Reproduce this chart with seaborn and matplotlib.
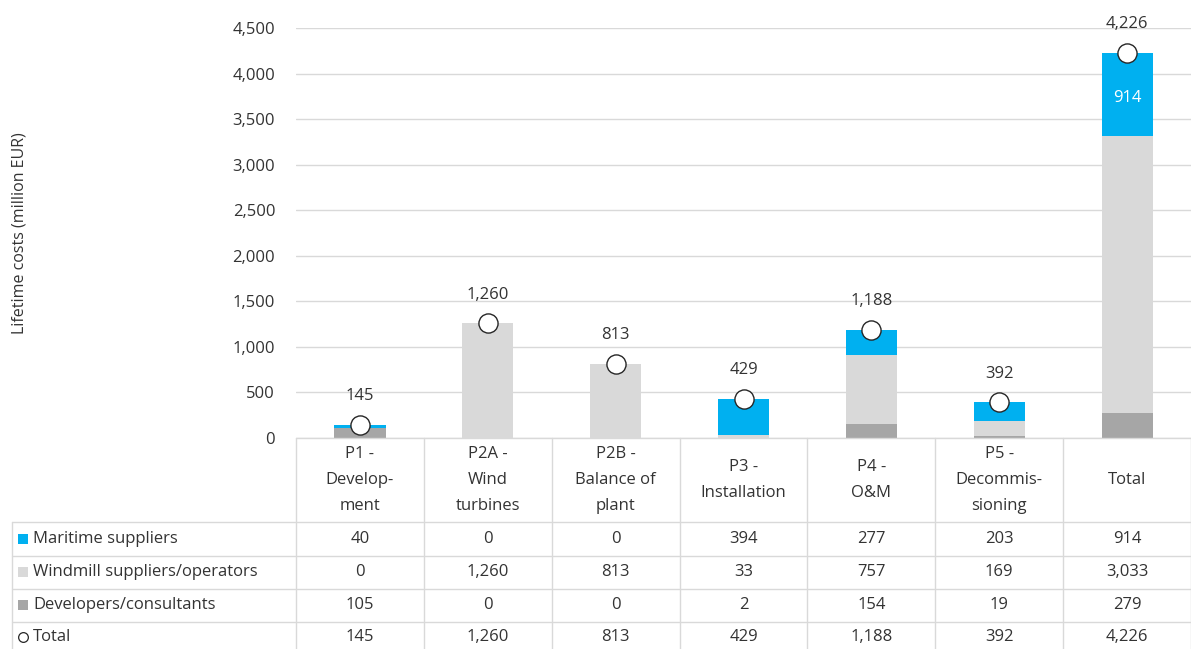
import numpy as np
import pandas as pd
import matplotlib
matplotlib.use("Agg")
import matplotlib.pyplot as plt
import matplotlib.transforms as mtransforms
from matplotlib.patches import Rectangle
import seaborn as sns

# ---------------- data ----------------
categories = ["P1 -\nDevelop-\nment", "P2A -\nWind\nturbines", "P2B -\nBalance of\nplant",
              "P3 -\nInstallation", "P4 -\nO&M", "P5 -\nDecommis-\nsioning", "Total"]
maritime = [40, 0, 0, 394, 277, 203, 914]
windmill = [0, 1260, 813, 33, 757, 169, 3033]
developers = [105, 0, 0, 2, 154, 19, 279]
totals = [145, 1260, 813, 429, 1188, 392, 4226]
series_names = ["Maritime suppliers", "Windmill suppliers/operators",
                "Developers/consultants", "Total"]
y_ticks = [0, 500, 1000, 1500, 2000, 2500, 3000, 3500, 4000, 4500]

BLUE = "#00b0f0"
LIGHT = "#d9d9d9"
DARK = "#a6a6a6"
TXT = "#333333"
GRID = "#d9d9d9"

df = pd.DataFrame({"cat": categories, "mar": maritime, "wind": windmill,
                   "dev": developers, "total": totals})
df["top"] = df["dev"] + df["wind"] + df["mar"]
df["mid"] = df["dev"] + df["wind"]

sns.set_theme(style="white")
plt.rcParams["font.family"] = ["Open Sans", "DejaVu Sans"]

W, H = 1191, 649
fig = plt.figure(figsize=(W / 100, H / 100), dpi=100)


def fr(x0, y0, x1, y1):
    return [x0 / W, 1 - y1 / H, (x1 - x0) / W, (y1 - y0) / H]


ax = fig.add_axes(fr(296, 28, 1191, 438))

# stacked bars via overlay of cumulative heights
sns.barplot(data=df, x="cat", y="top", color=BLUE, width=0.4, saturation=1,
            linewidth=0, ax=ax, zorder=2)
sns.barplot(data=df, x="cat", y="mid", color=LIGHT, width=0.4, saturation=1,
            linewidth=0, ax=ax, zorder=2)
sns.barplot(data=df, x="cat", y="dev", color=DARK, width=0.4, saturation=1,
            linewidth=0, ax=ax, zorder=2)

pos = np.arange(len(categories))
sns.scatterplot(x=pos, y=df["total"], s=190, color="white", edgecolor="#262626",
                linewidth=1.0, ax=ax, zorder=4, clip_on=False)

for i, t in enumerate(totals):
    ax.annotate(f"{t:,}", (i, t), xytext=(0, 20.5), textcoords="offset points",
                ha="center", va="center", fontsize=12, color=TXT, annotation_clip=False)

# white label inside maritime segment of Total
ti = len(categories) - 1
ax.text(ti, df["mid"][ti] + maritime[ti] / 2 - 40, f"{maritime[ti]:,}", ha="center",
        va="center", color="white", fontsize=12, zorder=5)

ax.set_xlim(-0.5, len(categories) - 0.5)
ax.set_ylim(0, 4500)
ax.set_yticks(y_ticks)
ax.set_yticklabels([f"{v:,}" for v in y_ticks], fontsize=12, color=TXT)
ax.tick_params(axis="y", length=0, pad=15)
ax.set_xticks([])
ax.set_xlabel("")
ax.set_ylabel("")
ax.grid(axis="y", color=GRID, linewidth=1, zorder=0)
ax.set_axisbelow(True)
for s in ax.spines.values():
    s.set_visible(False)

fig.text(20 / W, 1 - 233 / H, "Lifetime costs (million EUR)", rotation=90,
         ha="center", va="center", fontsize=11.5, color=TXT)

# ---------------- data table ----------------
tax = fig.add_axes(fr(0, 438, 1191, 649))
tax.set_xlim(0, W)
tax.set_ylim(649, 438)
tax.axis("off")
blend = mtransforms.blended_transform_factory(ax.transData, tax.transData)

row_edges = [522, 556, 589, 622, 655]
row_centers = [539, 572, 605, 637]

# lines
for b in np.arange(len(categories) + 1) - 0.5:
    tax.plot([b, b], [438, 649], color=GRID, lw=1, transform=blend, clip_on=False)
tax.plot([-0.5, len(categories) - 0.5], [438, 438], color=GRID, lw=1,
         transform=blend, clip_on=False)
for yb in row_edges[:-1]:
    tax.plot([12, W], [yb, yb], color=GRID, lw=1, clip_on=False)
tax.plot([12, 12], [522, 649], color=GRID, lw=1, clip_on=False)

# header
for i, c in enumerate(categories):
    tax.text(i, 480, c, transform=blend, ha="center", va="center", fontsize=12,
             color=TXT, linespacing=1.8)

# rows
rows = [maritime, windmill, developers, totals]
keys = [BLUE, LIGHT, DARK, None]
for r, (name, vals, col, yc) in enumerate(zip(series_names, rows, keys, row_centers)):
    if col is not None:
        tax.add_patch(Rectangle((18, yc - 5), 10, 10, color=col, lw=0))
    else:
        tax.plot([23], [yc], marker="o", ms=7, mfc="white", mec="#262626", mew=0.9)
    tax.text(33, yc, name, ha="left", va="center", fontsize=12, color=TXT)
    for i, v in enumerate(vals):
        tax.text(i, yc, f"{v:,}", transform=blend, ha="center", va="center",
                 fontsize=12, color=TXT)

fig.savefig("out.png", dpi=100)
